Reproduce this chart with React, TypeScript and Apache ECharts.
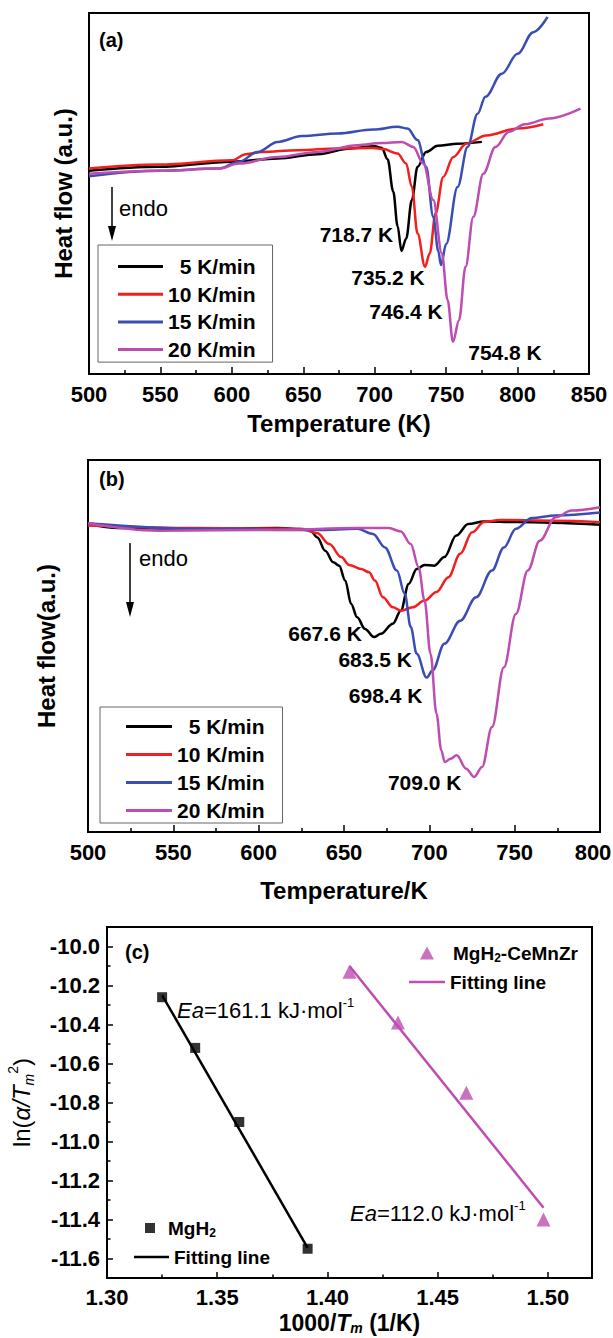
import React, { useEffect, useRef } from 'react';
import * as echarts from 'echarts';

type Pt = [number, number];

const FONT = "'Liberation Sans', Arial, Helvetica, sans-serif";

// heating rates shared by the DSC panels
const rateLabels = ['5 K/min', '10 K/min', '15 K/min', '20 K/min'];
const rateColors = ['#000000', '#F21F1F', '#3A4DB5', '#BE4DB2'];

// axis ticks
const tempTicksA = [500, 550, 600, 650, 700, 750, 800, 850];
const tempTicksB = [500, 550, 600, 650, 700, 750, 800];
const heatFlowRange = [0, 10];
const invTempTicks = [1.3, 1.35, 1.4, 1.45, 1.5];
const invTempMinor = [1.325, 1.375, 1.425, 1.475];
const invTempRange = [1.3, 1.52];
const lnTicks = [-11.6, -11.4, -11.2, -11.0, -10.8, -10.6, -10.4, -10.2, -10.0];
const lnMinor = [-11.5, -11.3, -11.1, -10.9, -10.7, -10.5, -10.3, -10.1];
const lnRange = [-11.7, -9.9];

// (a) DSC traces, temperature (K) vs heat flow (a.u.)
const dscA5: Pt[] = [[500, 5.63], [549, 5.74], [600, 5.88], [632, 5.97], [660, 6.09], [683, 6.25], [700, 6.31], [705, 6.26], [709, 5.95], [713, 5.05], [716, 4.1], [718.7, 3.41], [722, 3.75], [726, 4.82], [730, 5.74], [736, 6.15], [744, 6.32], [758, 6.38], [775, 6.43]];
const dscA10: Pt[] = [[500, 5.69], [549, 5.8], [600, 5.92], [610, 6.09], [621, 6.15], [646, 6.2], [674, 6.25], [699, 6.26], [706, 6.23], [716, 6.11], [722, 5.83], [726, 5.18], [730, 3.89], [735.2, 2.97], [738.5, 3.34], [742.6, 4.45], [748, 5.46], [755, 6.01], [764, 6.38], [778, 6.61], [800, 6.8], [818, 6.92]];
const dscA15: Pt[] = [[500, 5.48], [549, 5.63], [591, 5.69], [605, 5.88], [618, 6.15], [632, 6.43], [649, 6.59], [674, 6.66], [699, 6.77], [716, 6.85], [723, 6.8], [730, 6.48], [736, 5.74], [741, 4.35], [744.5, 3.4], [746.4, 3.02], [750, 3.6], [758, 5.18], [765, 6.29], [772, 7.21], [777.5, 7.68], [789, 8.32], [800, 8.87], [811, 9.47], [821, 9.89]];
const dscA20: Pt[] = [[500, 5.55], [549, 5.63], [591, 5.69], [605, 5.83], [632, 6.01], [660, 6.15], [688, 6.34], [705, 6.4], [719, 6.43], [727, 6.29], [734, 5.83], [741, 4.82], [747, 3.34], [751, 2.05], [754.8, 0.89], [759, 1.49], [763.6, 2.97], [769, 4.35], [776, 5.55], [784.5, 6.29], [794, 6.71], [805, 6.92], [822, 7.08], [844, 7.35]];
const peakTempsA = [718.7, 735.2, 746.4, 754.8];

// (b) DSC traces
const dscB5: Pt[] = [[500, 8.28], [518, 8.17], [565, 8.15], [611, 8.17], [630, 8.12], [634.4, 7.92], [639, 7.56], [643.7, 7.25], [647.2, 7.16], [650.7, 6.76], [654.2, 6.13], [657.7, 5.77], [662.3, 5.46], [667.6, 5.24], [671.6, 5.33], [678.6, 5.6], [683.3, 5.95], [687.9, 6.67], [692.6, 7.07], [697.2, 7.18], [703, 7.16], [708.8, 7.39], [715.8, 7.97], [722.8, 8.28], [732, 8.35], [751, 8.33], [800, 8.26]];
const dscB10: Pt[] = [[500, 8.24], [565, 8.17], [625, 8.15], [634.4, 8.03], [641.4, 7.74], [648.4, 7.39], [653, 7.18], [660, 7.07], [664.7, 6.98], [668.1, 6.76], [672.8, 6.31], [678.6, 6.04], [683.5, 5.95], [690.2, 6.04], [697.2, 6.22], [704.2, 6.45], [711.2, 6.85], [718.1, 7.48], [725.1, 8.06], [732.1, 8.33], [741.4, 8.39], [774, 8.37], [800, 8.33]];
const dscB15: Pt[] = [[500, 8.3], [565, 8.15], [634, 8.12], [657.7, 8.15], [667, 8.01], [674, 7.65], [681, 7.03], [685.6, 6.4], [689.1, 5.51], [692.6, 4.79], [698.4, 4.15], [701.9, 4.34], [708.8, 5.06], [718.1, 5.68], [727.4, 6.31], [736.7, 7.03], [743.7, 7.65], [750.7, 8.15], [760, 8.44], [774, 8.51], [800, 8.59]];
const dscB20: Pt[] = [[500, 8.3], [541, 8.1], [611, 8.12], [657.7, 8.17], [676.3, 8.17], [683.3, 8.08], [689.1, 7.74], [693.7, 7.12], [697.2, 6.22], [700.7, 4.79], [704.2, 3.18], [707, 2.2], [709.0, 1.88], [712.5, 1.97], [716, 2.06], [721.6, 1.7], [726.3, 1.48], [730.9, 1.75], [736.7, 2.82], [743.7, 4.43], [750.7, 5.86], [757.7, 7.03], [764.7, 7.83], [774, 8.46], [783.3, 8.64], [800, 8.73]];
const peakTempsB = [667.6, 683.5, 698.4, 709.0];

// (c) Kissinger plot, 1000/Tm vs ln(alpha/Tm^2)
const invTempMgH2 = [1.325, 1.34, 1.36, 1.391];
const lnMgH2 = [-10.26, -10.52, -10.9, -11.55];
const invTempCeMnZr = [1.41, 1.432, 1.463, 1.498];
const lnCeMnZr = [-10.13, -10.39, -10.75, -11.4];
const fitMgH2: Pt[] = [[1.325, -10.25], [1.391, -11.545]];
const fitCeMnZr: Pt[] = [[1.41, -10.1], [1.498, -11.34]];
const activationEnergies = ['161.1', '112.0'];

const black = '#000';
const magenta = rateColors[3];

function dscSeries(idx: number, data: Pt[], axis: number, peakT: number, offset: number[]) {
  const peak = data.find((p) => p[0] === peakT) as Pt;
  return {
    type: 'line',
    name: rateLabels[idx],
    xAxisIndex: axis,
    yAxisIndex: axis,
    data,
    smooth: 0.35,
    smoothMonotone: 'x',
    symbol: 'none',
    showSymbol: false,
    lineStyle: { color: rateColors[idx], width: 2.5 },
    itemStyle: { color: rateColors[idx] },
    z: 3,
    markPoint: {
      symbol: 'circle',
      symbolSize: 1,
      silent: true,
      itemStyle: { color: 'rgba(0,0,0,0)' },
      label: {
        show: true,
        position: 'inside',
        offset,
        formatter: `${peakT.toFixed(1)} K`,
        fontSize: 21,
        fontWeight: 'bold',
        fontFamily: FONT,
        color: black,
      },
      data: [{ coord: peak }],
    },
  };
}

const tickLabelStyle = { fontSize: 22, fontWeight: 'bold', fontFamily: FONT, color: black };
const titleStyle = { fontSize: 24, fontWeight: 'bold', fontFamily: FONT, color: black };

// lastPad nudges the final tick label left so it stays inside the page
function tempAxis(gridIndex: number, ticks: number[], name: string, nameGap: number, lastPad: number) {
  const max = ticks[ticks.length - 1];
  return {
    type: 'value',
    gridIndex,
    min: ticks[0],
    max,
    interval: ticks[1] - ticks[0],
    name,
    nameLocation: 'middle',
    nameGap,
    nameMoveOverlap: false,
    nameTextStyle: titleStyle,
    axisLine: { show: true, lineStyle: { color: black, width: 2 } },
    axisTick: { show: true, inside: true, length: 7, lineStyle: { color: black, width: 1.5 } },
    minorTick: { show: true, splitNumber: 2, length: 4, lineStyle: { color: black, width: 1.5 } },
    axisLabel: {
      ...tickLabelStyle,
      margin: 9,
      formatter: (v: number) => (v === max && lastPad > 0 ? `{r|${v}}` : `${v}`),
      rich: { r: { ...tickLabelStyle, padding: [0, lastPad, 0, 0] } },
    },
    splitLine: { show: false },
    minorSplitLine: { show: false },
  };
}

function heatAxis(gridIndex: number, name: string, nameGap: number) {
  return {
    type: 'value',
    gridIndex,
    min: heatFlowRange[0],
    max: heatFlowRange[1],
    name,
    nameLocation: 'middle',
    nameRotate: 90,
    nameGap,
    nameMoveOverlap: false,
    nameTextStyle: titleStyle,
    axisLine: { show: true, lineStyle: { color: black, width: 2 } },
    axisTick: { show: false },
    axisLabel: { show: false },
    splitLine: { show: false },
  };
}

function rateLegend(left: number, top: number, gap: number, width: number, padding: number[]) {
  return {
    orient: 'vertical',
    left,
    top,
    data: rateLabels,
    icon: 'rect',
    itemWidth: width,
    itemHeight: 3,
    itemGap: gap,
    padding,
    borderColor: '#666',
    borderWidth: 1,
    selectedMode: false,
    itemStyle: { borderWidth: 0 },
    lineStyle: { width: 0 },
    textStyle: { fontSize: 21, fontWeight: 'bold', fontFamily: FONT, color: black, lineHeight: 20 },
    formatter: (n: string) => (n.length < 8 ? '\u00a0\u00a0' + n : n),
  };
}

const kisRich = {
  n: { fontSize: 19, fontWeight: 'bold', fontFamily: FONT, color: black, lineHeight: 22 },
  b: { fontSize: 12, fontWeight: 'bold', fontFamily: FONT, color: black, lineHeight: 12, verticalAlign: 'bottom' },
};

// one legend row of the Kissinger panel; symbol rows and line rows use different icon boxes
function kisLegend(left: number, top: number, name: string, icon: string, w: number, h: number, spacer: number) {
  return {
    orient: 'vertical',
    left,
    top,
    data: [name],
    icon,
    itemWidth: w,
    itemHeight: h,
    symbolKeepAspect: true,
    padding: 0,
    selectedMode: false,
    itemStyle: { borderWidth: 0 },
    lineStyle: { width: 0 },
    textStyle: {
      fontSize: 19,
      fontWeight: 'bold',
      fontFamily: FONT,
      color: black,
      lineHeight: 22,
      rich: { ...kisRich, sp: { width: spacer, lineHeight: 22 } },
    },
    formatter: (n: string) =>
      '{sp|\u00a0}' +
      (n.endsWith(' fit') ? '{n|Fitting line}' : n.replace('MgH2', '{n|MgH}{b|2}').replace(/-CeMnZr$/, '{n|-CeMnZr}')),
  };
}

const eaRich = {
  i: { fontSize: 22, fontStyle: 'italic', fontFamily: FONT, color: black, lineHeight: 28 },
  n: { fontSize: 22, fontFamily: FONT, color: black, lineHeight: 28 },
  s: { fontSize: 13, fontFamily: FONT, color: black, lineHeight: 13, verticalAlign: 'top' },
};

function textEl(x: number, y: number, text: string, size: number, weight: string, extra: any = {}) {
  return {
    type: 'text',
    x,
    y,
    z: 10,
    style: {
      text,
      fontSize: size,
      fontWeight: weight,
      fontFamily: FONT,
      fill: black,
      verticalAlign: 'middle',
      textVerticalAlign: 'middle',
      ...extra,
    },
  };
}

function endoArrow(x: number, y1: number, y2: number) {
  return [
    { type: 'line', z: 10, shape: { x1: x, y1, x2: x, y2: y2 - 12 }, style: { stroke: black, lineWidth: 1.5 } },
    { type: 'polygon', z: 10, shape: { points: [[x - 4, y2 - 15], [x + 4, y2 - 15], [x, y2]] }, style: { fill: black } },
  ];
}

function buildOption() {
  const gridBase = { show: true, borderColor: black, borderWidth: 2, backgroundColor: 'transparent', outerBoundsMode: 'none', containLabel: false };
  return {
    animation: false,
    backgroundColor: '#fff',
    grid: [
      { ...gridBase, left: 89, top: 13, width: 500, height: 361 },
      { ...gridBase, left: 88, top: 460, width: 512, height: 372 },
      { ...gridBase, left: 107, top: 927, width: 485, height: 351 },
    ],
    xAxis: [
      tempAxis(0, tempTicksA, 'Temperature (K)', 37, 0),
      tempAxis(1, tempTicksB, 'Temperature/K', 46, 14),
      {
        type: 'value',
        gridIndex: 2,
        position: 'bottom',
        min: invTempRange[0],
        max: invTempRange[1],
        name: '{n|1000/}{i|T}{b|m}{n| (1/K)}',
        nameLocation: 'middle',
        nameGap: 33,
        nameMoveOverlap: false,
        nameTextStyle: {
          ...titleStyle,
          fontSize: 23,
          rich: {
            n: { fontSize: 23, fontWeight: 'bold', fontFamily: FONT, color: black, lineHeight: 24 },
            i: { fontSize: 23, fontWeight: 'bold', fontStyle: 'italic', fontFamily: FONT, color: black, lineHeight: 24 },
            b: { fontSize: 14, fontWeight: 'bold', fontStyle: 'italic', fontFamily: FONT, color: black, lineHeight: 12, verticalAlign: 'bottom' },
          },
        },
        axisLine: { show: true, lineStyle: { color: black, width: 2 } },
        axisTick: { show: true, inside: true, length: 6, customValues: invTempTicks, lineStyle: { color: black, width: 1.5 } },
        axisLabel: { ...tickLabelStyle, margin: 8, customValues: invTempTicks, formatter: (v: number) => v.toFixed(2) },
        splitLine: { show: false },
      },
      {
        type: 'value',
        gridIndex: 2,
        position: 'bottom',
        min: invTempRange[0],
        max: invTempRange[1],
        axisLine: { show: false },
        axisTick: { show: true, inside: true, length: 3.5, customValues: invTempMinor, lineStyle: { color: black, width: 1.5 } },
        axisLabel: { show: false },
        splitLine: { show: false },
      },
    ],
    yAxis: [
      heatAxis(0, 'Heat flow (a.u.)', 14),
      heatAxis(1, 'Heat flow(a.u.)', 30),
      {
        type: 'value',
        gridIndex: 2,
        position: 'left',
        min: lnRange[0],
        max: lnRange[1],
        name: '{n|ln(}{i|α/T}{b|m}{s|2}{n|)}',
        nameLocation: 'middle',
        nameRotate: 90,
        nameGap: 71,
        nameMoveOverlap: false,
        nameTextStyle: {
          fontSize: 24,
          fontFamily: FONT,
          color: black,
          rich: {
            n: { fontSize: 24, fontFamily: FONT, color: black, lineHeight: 30 },
            i: { fontSize: 24, fontStyle: 'italic', fontFamily: FONT, color: black, lineHeight: 30 },
            b: { fontSize: 14, fontStyle: 'italic', fontFamily: FONT, color: black, lineHeight: 14, verticalAlign: 'bottom' },
            s: { fontSize: 14, fontFamily: FONT, color: black, lineHeight: 14, verticalAlign: 'top' },
          },
        },
        axisLine: { show: true, lineStyle: { color: black, width: 2 } },
        axisTick: { show: true, inside: true, length: 6, customValues: lnTicks, lineStyle: { color: black, width: 1.5 } },
        axisLabel: { ...tickLabelStyle, margin: 7, customValues: lnTicks, formatter: (v: number) => v.toFixed(1) },
        splitLine: { show: false },
      },
      {
        type: 'value',
        gridIndex: 2,
        position: 'left',
        min: lnRange[0],
        max: lnRange[1],
        axisLine: { show: false },
        axisTick: { show: true, inside: true, length: 3.5, customValues: lnMinor, lineStyle: { color: black, width: 1.5 } },
        axisLabel: { show: false },
        splitLine: { show: false },
      },
    ],
    legend: [
      rateLegend(98, 245, 6.7, 45, [11, 17, 2, 20]),
      rateLegend(100, 707, 7, 46, [9, 18, 2, 26]),
      kisLegend(420, 942, 'MgH2-CeMnZr', 'triangle', 14, 13, 14),
      kisLegend(409, 971, 'MgH2-CeMnZr fit', 'rect', 36, 2.5, 0),
      kisLegend(145, 1217, 'MgH2', 'rect', 10, 10, 8),
      kisLegend(134, 1246, 'MgH2 fit', 'rect', 35, 2.5, 0),
    ],
    series: [
      dscSeries(0, dscA5, 0, peakTempsA[0], [-45, -16]),
      dscSeries(1, dscA10, 0, peakTempsA[1], [-37, 11]),
      dscSeries(2, dscA15, 0, peakTempsA[2], [-35, 47]),
      dscSeries(3, dscA20, 0, peakTempsA[3], [52, 11]),
      dscSeries(0, dscB5, 1, peakTempsB[0], [-49, -4]),
      dscSeries(1, dscB10, 1, peakTempsB[1], [-26, 49]),
      dscSeries(2, dscB15, 1, peakTempsB[2], [-41, 18]),
      dscSeries(3, dscB20, 1, peakTempsB[3], [-20, 20]),
      {
        type: 'line',
        name: 'MgH2 fit',
        xAxisIndex: 2,
        yAxisIndex: 2,
        data: fitMgH2,
        symbol: 'none',
        lineStyle: { color: black, width: 2.5 },
        itemStyle: { color: black },
      },
      {
        type: 'line',
        name: 'MgH2-CeMnZr fit',
        xAxisIndex: 2,
        yAxisIndex: 2,
        data: fitCeMnZr,
        symbol: 'none',
        lineStyle: { color: magenta, width: 2.5 },
        itemStyle: { color: magenta },
      },
      {
        type: 'scatter',
        name: 'MgH2',
        xAxisIndex: 2,
        yAxisIndex: 2,
        data: invTempMgH2.map((x, i) => [x, lnMgH2[i]]),
        symbol: 'rect',
        symbolSize: 10,
        itemStyle: { color: black },
        z: 4,
      },
      {
        type: 'scatter',
        name: 'MgH2-CeMnZr',
        xAxisIndex: 2,
        yAxisIndex: 2,
        data: invTempCeMnZr.map((x, i) => [x, lnCeMnZr[i]]),
        symbol: 'triangle',
        symbolSize: 14,
        itemStyle: { color: magenta },
        z: 4,
      },
    ],
    graphic: [
      textEl(99, 40, '(a)', 20, 'bold'),
      textEl(99, 479, '(b)', 20, 'bold'),
      textEl(125, 952, '(c)', 20, 'bold'),
      ...endoArrow(112, 187, 241),
      textEl(119, 208, 'endo', 22, 'normal'),
      ...endoArrow(130, 543, 617),
      textEl(139, 558, 'endo', 22, 'normal'),
      textEl(177, 1010, `{i|Ea}{n|=${activationEnergies[0]} kJ·mol}{s|-1}`, 22, 'normal', { rich: eaRich }),
      textEl(350, 1213, `{i|Ea}{n|=${activationEnergies[1]} kJ·mol}{s|-1}`, 22, 'normal', { rich: eaRich }),
    ],
  };
}

export default function App() {
  const ref = useRef<HTMLDivElement>(null);
  useEffect(() => {
    document.body.style.margin = '0';
    const chart = echarts.init(ref.current as HTMLDivElement, null, { renderer: 'svg' });
    chart.setOption(buildOption() as any);
    return () => chart.dispose();
  }, []);
  return <div ref={ref} style={{ width: 613, height: 1338, background: '#fff' }} />;
}
